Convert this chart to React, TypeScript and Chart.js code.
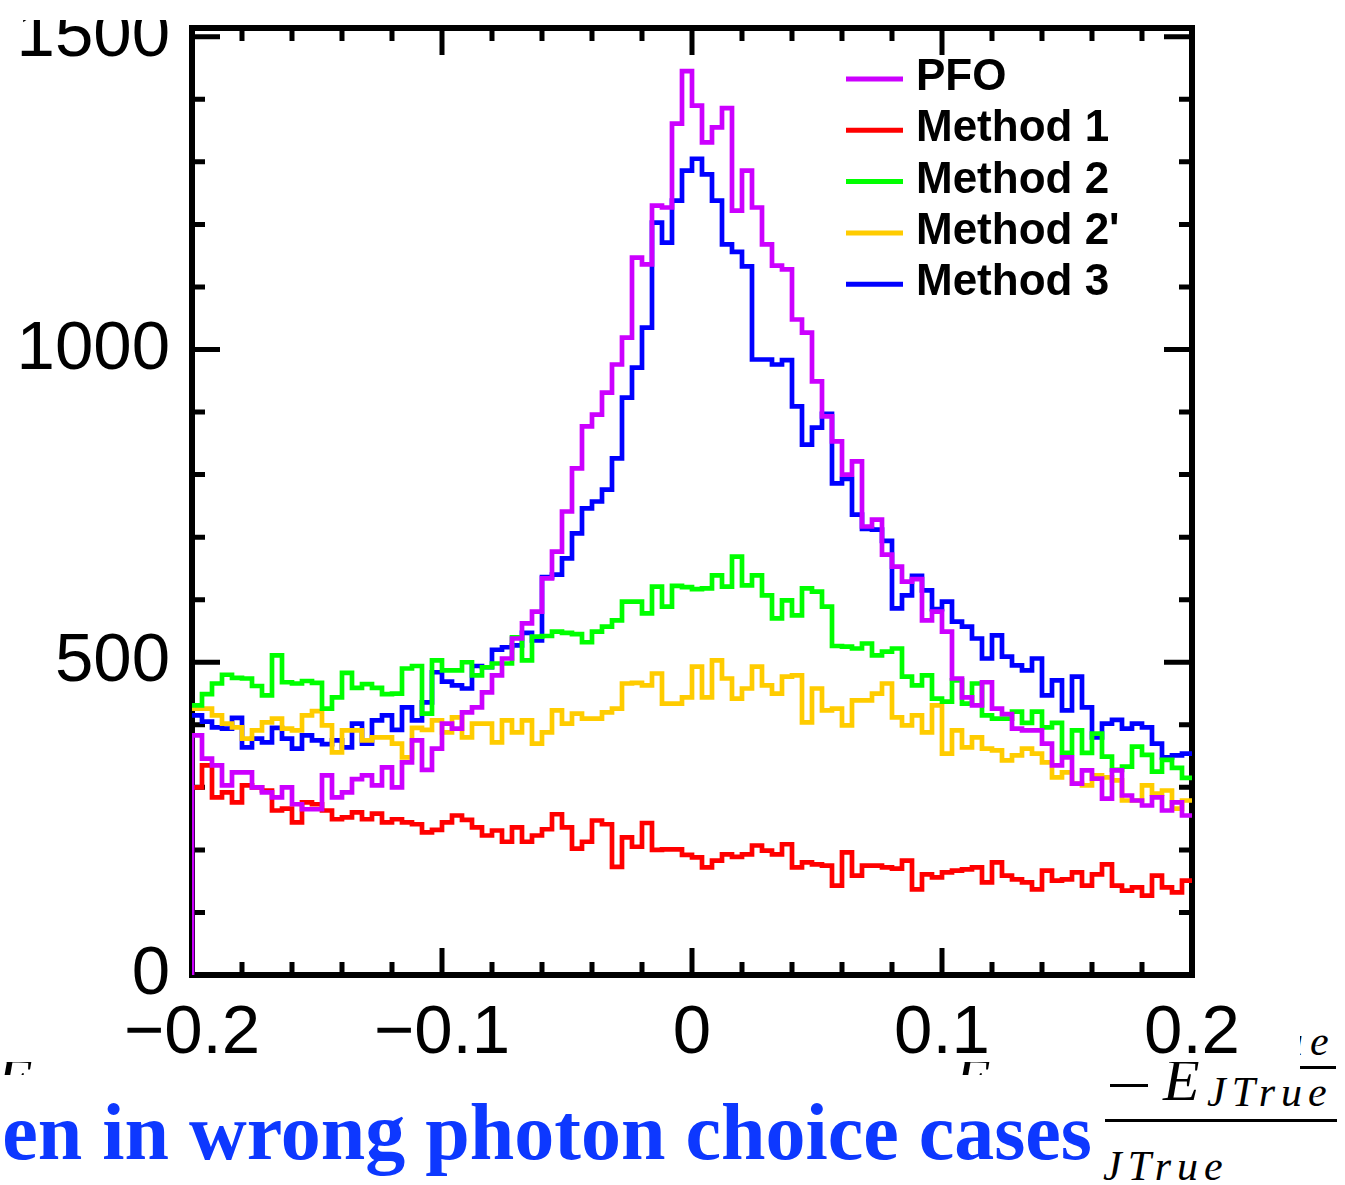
import React, { useEffect, useRef } from "react";
import { Chart, registerables } from "chart.js";

Chart.register(...registerables);

// ---------------- data ----------------
const X_MIN = -0.2;
const X_MAX = 0.2;
const N_BINS = 100;
const Y_MIN = 0;
const Y_MAX = 1514;
const X_TICKS = [-0.2, -0.1, 0, 0.1, 0.2];
const Y_TICKS = [0, 500, 1000, 1500];
const X_MINOR_STEP = 0.02;
const Y_MINOR_STEP = 100;

const seriesLabels = ["PFO", "Method 1", "Method 2", "Method 2'", "Method 3"];
const seriesColors = ["#cc00ff", "#ff0000", "#00ff00", "#ffcc00", "#0000ff"];

const pfo = [
  383, 346, 335, 303, 324, 324, 300, 292, 284, 300, 273, 265, 265, 319, 284, 292, 313, 319, 303, 332, 300, 340, 375, 328, 362,
  402, 394, 420, 428, 452, 479, 506, 538, 562, 581, 634,
  677, 741, 810, 877, 896, 931, 976, 1019, 1147, 1136, 1230, 1227, 1361, 1445, 1390,
  1331, 1355, 1386, 1222, 1286, 1227, 1168, 1134, 1128, 1048, 1027, 949, 893, 853, 800, 821,
  717, 728, 672, 653, 629, 633, 567, 581, 549, 474,
  444, 431, 468, 426, 417, 394, 391, 391, 370, 335, 348, 306, 327, 314, 282, 327, 287, 279, 271, 284, 263, 276, 255,
];

const method1 = [
  300, 335, 284, 292, 276, 303, 300, 295, 263, 266, 244, 276, 273, 263, 249, 252, 260, 249, 258, 244, 249, 244, 241, 228, 232,
  244, 255, 248, 236, 223, 231, 213, 236, 213, 223, 233, 257, 236, 202, 213, 247, 241, 173, 220, 205, 243, 200, 201, 201, 192,
  188, 172, 183, 193, 189, 193, 207, 199, 193, 209, 172, 180, 177, 175, 143, 196, 159, 175, 175, 172, 170, 183, 137, 161, 156,
  164, 167, 169, 172, 148, 180, 159, 153, 148, 137, 167, 151, 153, 164, 143, 161, 177, 143, 135, 140, 127, 159, 140, 132, 151,
];

const method2 = [
  431, 449, 466, 480, 475, 474, 462, 447, 511, 468, 466, 470, 467, 426, 444, 483, 459, 465, 459, 449, 450, 490, 494, 418, 503,
  487, 487, 500, 479, 492, 498, 498, 540, 503, 541, 542, 549, 547, 545, 532, 549, 557, 567, 597, 597, 578, 621, 589, 622, 620,
  617, 618, 639, 621, 669, 623, 639, 607, 570, 599, 575, 618, 613, 589, 526, 525, 522, 530, 511, 517, 522, 477, 463, 479, 442,
  437, 471, 434, 466, 415, 410, 410, 421, 403, 421, 396, 403, 355, 391, 355, 386, 349, 328, 333, 365, 352, 325, 344, 331, 315,
];

const method2p = [
  426, 426, 415, 402, 396, 378, 391, 404, 410, 394, 391, 415, 422, 399, 356, 391, 391, 375, 380, 380, 370, 348, 395, 392, 407,
  388, 412, 380, 402, 402, 372, 407, 388, 407, 370, 388, 423, 402, 418, 410, 410, 420, 426, 466, 467, 463, 482, 434, 434, 444,
  493, 444, 503, 474, 442, 458, 493, 463, 450, 477, 479, 404, 458, 423, 426, 399, 439, 439, 450, 466, 412, 399, 415, 388, 431,
  354, 391, 364, 380, 362, 359, 343, 351, 362, 354, 340, 316, 324, 306, 303, 319, 316, 311, 279, 279, 303, 290, 295, 266, 279,
];

const method3 = [
  415, 405, 396, 394, 411, 364, 378, 372, 395, 378, 362, 383, 375, 369, 375, 364, 402, 370, 407, 415, 392, 428, 407, 436, 484,
  469, 463, 458, 494, 492, 520, 524, 527, 547, 535, 636, 640,
  666, 706, 746, 757, 776, 826, 923, 971, 1035, 1203, 1171, 1238, 1286, 1305,
  1280, 1238, 1168, 1156, 1133, 984, 984, 976, 983, 909, 848, 875, 897, 786, 793, 736,
  713, 712, 694, 586, 607, 638, 615, 585, 597, 565, 557,
  538, 506, 543, 509, 495, 487, 506, 447, 471, 423, 477, 428, 380, 402, 408, 394, 402, 396, 370, 348, 351, 354,
];

const seriesValues = [pfo, method1, method2, method2p, method3];
// PFO outline rises from the baseline at the left edge
const startsFromBaseline = [true, false, false, false, false];

// ---------------- helpers ----------------
const BIN_W = (X_MAX - X_MIN) / N_BINS;

function histPoints(values: number[], fromBase: boolean) {
  const pts: { x: number; y: number }[] = [];
  if (fromBase) pts.push({ x: X_MIN, y: Y_MIN });
  values.forEach((v, i) => pts.push({ x: X_MIN + i * BIN_W, y: v }));
  pts.push({ x: X_MAX, y: values[values.length - 1] });
  return pts;
}

function fmtX(v: number) {
  const r = Math.round(v * 10) / 10;
  if (r === 0) return "0";
  return r < 0 ? "\u2212" + Math.abs(r) : String(r);
}

const AXIS_FONT = "'Liberation Sans', Arial, Helvetica, sans-serif";

const framePlugin = {
  id: "rootFrame",
  beforeDatasetsDraw(chart: any) {
    const { ctx, chartArea } = chart;
    const { left, right, top, bottom } = chartArea;
    const xs = chart.scales.x;
    const ys = chart.scales.y;
    ctx.save();
    ctx.strokeStyle = "#000";
    ctx.lineCap = "butt";
    // ticks
    ctx.lineWidth = 5;
    const nx = Math.round((X_MAX - X_MIN) / X_MINOR_STEP);
    for (let i = 1; i < nx; i++) {
      const v = X_MIN + i * X_MINOR_STEP;
      const major = X_TICKS.some((t) => Math.abs(t - v) < 1e-9);
      const len = major ? 27 : 13;
      const px = xs.getPixelForValue(v);
      ctx.beginPath();
      ctx.moveTo(px, bottom);
      ctx.lineTo(px, bottom - len);
      ctx.moveTo(px, top);
      ctx.lineTo(px, top + len);
      ctx.stroke();
    }
    for (let v = Y_MIN + Y_MINOR_STEP; v < Y_MAX; v += Y_MINOR_STEP) {
      const major = Y_TICKS.includes(v);
      const len = major ? 28 : 13;
      const py = ys.getPixelForValue(v);
      ctx.beginPath();
      ctx.moveTo(left, py);
      ctx.lineTo(left + len, py);
      ctx.moveTo(right, py);
      ctx.lineTo(right - len, py);
      ctx.stroke();
    }
    // frame
    ctx.lineWidth = 6;
    ctx.strokeRect(left, top, right - left, bottom - top);
    ctx.restore();
  },
  afterDatasetsDraw(chart: any) {
    const { ctx } = chart;
    ctx.save();
    const x1 = 846;
    const x2 = 903;
    const tx = 916;
    const y0 = 79;
    const dy = 51.3;
    ctx.font = "bold 44px " + AXIS_FONT;
    ctx.textBaseline = "alphabetic";
    ctx.textAlign = "left";
    chart.data.datasets.forEach((ds: any, i: number) => {
      const y = y0 + i * dy;
      ctx.strokeStyle = ds.borderColor;
      ctx.lineWidth = 5;
      ctx.beginPath();
      ctx.moveTo(x1, y);
      ctx.lineTo(x2, y);
      ctx.stroke();
      ctx.fillStyle = "#000";
      ctx.fillText(ds.label, tx, y + 11);
    });
    ctx.restore();
  },
};

export default function App() {
  const canvasRef = useRef<HTMLCanvasElement | null>(null);

  useEffect(() => {
    const canvas = canvasRef.current;
    if (!canvas) return;
    const datasets = seriesLabels.map((label, i) => ({
      label,
      data: histPoints(seriesValues[i], startsFromBaseline[i]),
      borderColor: seriesColors[i],
      backgroundColor: seriesColors[i],
      borderWidth: 4.7,
      stepped: "before" as const,
      pointRadius: 0,
      fill: false,
      tension: 0,
    }));
    const chart = new Chart(canvas, {
      type: "line",
      data: { datasets },
      options: {
        animation: false,
        responsive: false,
        devicePixelRatio: 1,
        parsing: false,
        layout: { padding: { left: 0, right: 108, top: 28, bottom: 0 } },
        plugins: { legend: { display: false }, tooltip: { enabled: false } },
        scales: {
          x: {
            type: "linear",
            min: X_MIN,
            max: X_MAX,
            grid: { display: false, drawTicks: false },
            border: { display: false },
            afterBuildTicks: (s: any) => {
              s.ticks = X_TICKS.map((v) => ({ value: v }));
            },
            ticks: {
              autoSkip: false,
              maxRotation: 0,
              padding: 18,
              color: "#000",
              font: { family: AXIS_FONT, size: 69 },
              callback: (v: any) => fmtX(Number(v)),
            },
            afterFit: (s: any) => {
              s.height = 87;
              s.paddingLeft = 0;
              s.paddingRight = 0;
            },
          },
          y: {
            type: "linear",
            min: Y_MIN,
            max: Y_MAX,
            grid: { display: false, drawTicks: false },
            border: { display: false },
            afterBuildTicks: (s: any) => {
              s.ticks = Y_TICKS.map((v) => ({ value: v }));
            },
            ticks: {
              padding: 22,
              color: "#000",
              font: { family: AXIS_FONT, size: 69 },
              callback: (v: any) => String(v),
            },
            afterFit: (s: any) => {
              s.width = 192;
              s.paddingTop = 0;
              s.paddingBottom = 0;
            },
          },
        },
      } as any,
      plugins: [framePlugin],
    });
    return () => chart.destroy();
  }, []);

  const serifI = "'Liberation Serif', 'DejaVu Serif', 'Times New Roman', serif";

  return (
    <div
      style={{
        position: "absolute",
        left: 0,
        top: 0,
        width: 1345,
        height: 1185,
        overflow: "hidden",
        background: "#fff",
      }}
    >
      {/* slide fragments beneath the chart picture */}
      <div style={{ position: "absolute", left: 0, top: 1062, width: 40, height: 13, overflow: "hidden" }}>
        <span
          style={{
            position: "absolute",
            left: -4,
            top: -13,
            fontFamily: serifI,
            fontStyle: "italic",
            fontSize: 60,
            lineHeight: "60px",
            color: "#000",
          }}
        >
          E
        </span>
      </div>
      <div style={{ position: "absolute", left: 952, top: 1062, width: 45, height: 13, overflow: "hidden" }}>
        <span
          style={{
            position: "absolute",
            left: 2,
            top: -13,
            fontFamily: serifI,
            fontStyle: "italic",
            fontSize: 60,
            lineHeight: "60px",
            color: "#000",
          }}
        >
          E
        </span>
      </div>
      <span
        style={{
          position: "absolute",
          right: 253,
          top: 1092,
          whiteSpace: "nowrap",
          fontFamily: serifI,
          fontWeight: "bold",
          fontSize: 80,
          lineHeight: "80px",
          color: "#0d38ff",
        }}
      >
        en in wrong photon choice cases
      </span>
      <span
        style={{
          position: "absolute",
          left: 1282,
          top: 1020,
          whiteSpace: "nowrap",
          fontFamily: serifI,
          fontStyle: "italic",
          fontSize: 42,
          lineHeight: "42px",
          letterSpacing: 7,
          color: "#000",
        }}
      >
        ue
      </span>
      <div style={{ position: "absolute", left: 1300, top: 1066, width: 36, height: 3, background: "#000" }} />
      <div style={{ position: "absolute", left: 1110, top: 1084, width: 38, height: 3, background: "#000" }} />
      <span
        style={{
          position: "absolute",
          left: 1163,
          top: 1050,
          whiteSpace: "nowrap",
          fontFamily: serifI,
          fontStyle: "italic",
          fontSize: 60,
          lineHeight: "60px",
          color: "#000",
        }}
      >
        E
      </span>
      <span
        style={{
          position: "absolute",
          left: 1207,
          top: 1071,
          whiteSpace: "nowrap",
          fontFamily: serifI,
          fontStyle: "italic",
          fontSize: 42,
          lineHeight: "42px",
          letterSpacing: 6,
          color: "#000",
        }}
      >
        JTrue
      </span>
      <div style={{ position: "absolute", left: 1105, top: 1119, width: 232, height: 3, background: "#000" }} />
      <span
        style={{
          position: "absolute",
          left: 1103,
          top: 1145,
          whiteSpace: "nowrap",
          fontFamily: serifI,
          fontStyle: "italic",
          fontSize: 42,
          lineHeight: "42px",
          letterSpacing: 6,
          color: "#000",
        }}
      >
        JTrue
      </span>

      {/* chart picture */}
      <div
        style={{
          position: "absolute",
          left: 0,
          top: 20,
          width: 1300,
          height: 1042,
          overflow: "hidden",
          background: "#fff",
          zIndex: 1,
        }}
      >
        <canvas
          ref={canvasRef}
          width={1300}
          height={1062}
          style={{ position: "absolute", left: 0, top: -20, width: 1300, height: 1062 }}
        />
      </div>
    </div>
  );
}
